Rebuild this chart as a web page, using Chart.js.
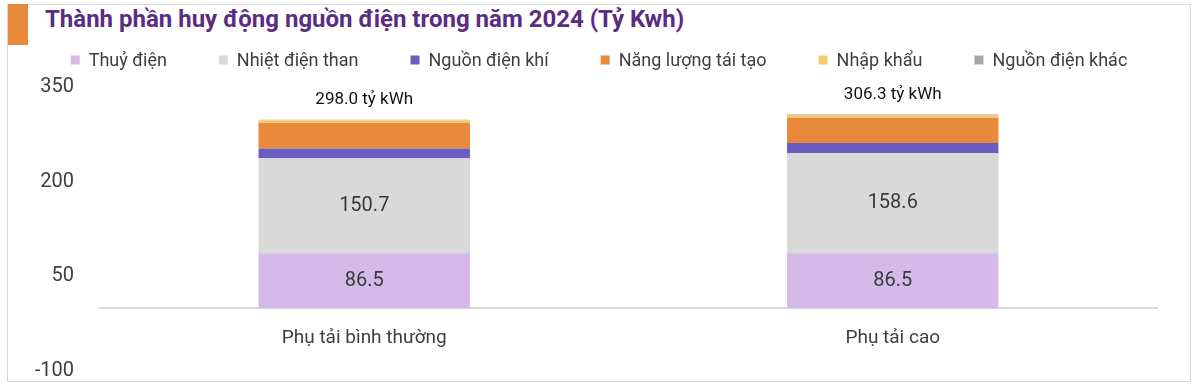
<!DOCTYPE html>
<html>
<head>
<meta charset="utf-8">
<script src="https://cdn.jsdelivr.net/npm/chart.js@4/dist/chart.umd.min.js"></script>
<style>
  body { margin: 0; width: 1200px; height: 391px; background: #fff; overflow: hidden; font-family: Roboto, sans-serif; }
  #frame { position: absolute; left: 7px; top: 4px; width: 1184px; height: 378px; border: 1px solid #d9d9d9; box-sizing: border-box; }
  #mark { position: absolute; left: 8px; top: 4px; width: 20px; height: 41px; background: #e8893c; }
  #title { position: absolute; left: 45px; top: 5px; margin: 0; font-size: 24px; font-weight: bold; color: #5a2c82; white-space: nowrap; }
  #wrap { position: absolute; left: 30px; top: 43px; width: 1151px; height: 358px; }
</style>
</head>
<body>
<div id="frame"></div>
<div id="mark"></div>
<h1 id="title">Thành phần huy động nguồn điện trong năm 2024 (Tỷ Kwh)</h1>
<div id="wrap"><canvas id="chart"></canvas></div>
<script>
const categories = ["Phụ tải bình thường", "Phụ tải cao"];
const seriesNames = ["Thuỷ điện", "Nhiệt điện than", "Nguồn điện khí", "Năng lượng tái tạo", "Nhập khẩu", "Nguồn điện khác"];
const seriesColors = ["#d4b9e9", "#d9d9d9", "#6e5bbf", "#e8893c", "#f3cc6c", "#a6a6a6"];

const hydro = [86.5, 86.5];
const coal = [150.7, 158.6];
const gas = [15.5, 16.0];
const renewable = [40.2, 40.0];
const imports = [4.6, 4.7];
const other = [0.5, 0.5];

const yTicks = [-100, 50, 200, 350];

const seriesValues = [hydro, coal, gas, renewable, imports, other];

// one-row legend with wide gaps (the built-in one wraps at this spacing)
const rowLegend = {
  id: "rowLegend",
  afterDraw(chart) {
    const ctx = chart.ctx;
    const gap = 52;
    const box = 9;
    ctx.save();
    ctx.font = "18px Roboto";
    ctx.textBaseline = "middle";
    ctx.textAlign = "left";
    const items = chart.data.datasets.map((ds) => ({
      text: ds.label,
      color: ds.backgroundColor,
      w: box + 9 + ctx.measureText(ds.label).width,
    }));
    let total = gap * (items.length - 1);
    items.forEach((it) => (total += it.w));
    let x = 569 - total / 2;
    const y = 17;
    items.forEach((it) => {
      ctx.fillStyle = it.color;
      ctx.fillRect(x, y - box / 2, box, box);
      ctx.fillStyle = "#3f3f3f";
      ctx.fillText(it.text, x + box + 9, y + 1);
      x += it.w + gap;
    });
    ctx.restore();
  },
};

// labels inside the two biggest segments + total above each bar
const barLabels = {
  id: "barLabels",
  afterDatasetsDraw(chart) {
    const ctx = chart.ctx;
    const yScale = chart.scales.y;
    ctx.save();
    ctx.textAlign = "center";
    ctx.textBaseline = "middle";
    ctx.font = "20px Roboto";
    ctx.fillStyle = "#3a3a3a";
    [0, 1].forEach((di) => {
      chart.getDatasetMeta(di).data.forEach((bar, i) => {
        const v = chart.data.datasets[di].data[i];
        ctx.fillText(v.toFixed(1), bar.x, (bar.y + bar.base) / 2);
      });
    });
    ctx.font = "17px Roboto";
    ctx.fillStyle = "#111";
    categories.forEach((c, i) => {
      let total = 0;
      seriesValues.forEach((s) => (total += s[i]));
      const x = chart.getDatasetMeta(0).data[i].x;
      const y = yScale.getPixelForValue(total) - 20;
      ctx.fillText(total.toFixed(1) + " tỷ kWh", x, y);
    });
    ctx.restore();
  },
};

new Chart(document.getElementById("chart"), {
  type: "bar",
  data: {
    labels: categories,
    datasets: seriesNames.map((name, i) => ({
      label: name,
      data: seriesValues[i],
      backgroundColor: seriesColors[i],
      borderWidth: 0,
      barPercentage: 0.4,
      categoryPercentage: 1,
    })),
  },
  options: {
    responsive: true,
    maintainAspectRatio: false,
    animation: false,
    layout: { padding: { left: 0, right: 24, top: 44, bottom: 8 } },
    plugins: {
      legend: { display: false },
      tooltip: { enabled: false },
    },
    scales: {
      x: {
        stacked: true,
        position: { y: 0 },
        afterFit(scale) {
          scale.height = 0;
        },
        grid: { display: false },
        border: { display: true, color: "#d9d9d9", width: 2 },
        ticks: { color: "#3f3f3f", font: { size: 19, family: "Roboto" }, padding: 11 },
      },
      y: {
        stacked: true,
        min: -100,
        max: 350,
        afterBuildTicks(scale) {
          scale.ticks = yTicks.map((v) => ({ value: v }));
        },
        afterFit(scale) {
          scale.width = 70;
        },
        grid: { display: false },
        border: { display: false },
        ticks: { color: "#3f3f3f", font: { size: 20, family: "Roboto" }, padding: 18 },
      },
    },
  },
  plugins: [rowLegend, barLabels],
});
</script>
</body>
</html>
